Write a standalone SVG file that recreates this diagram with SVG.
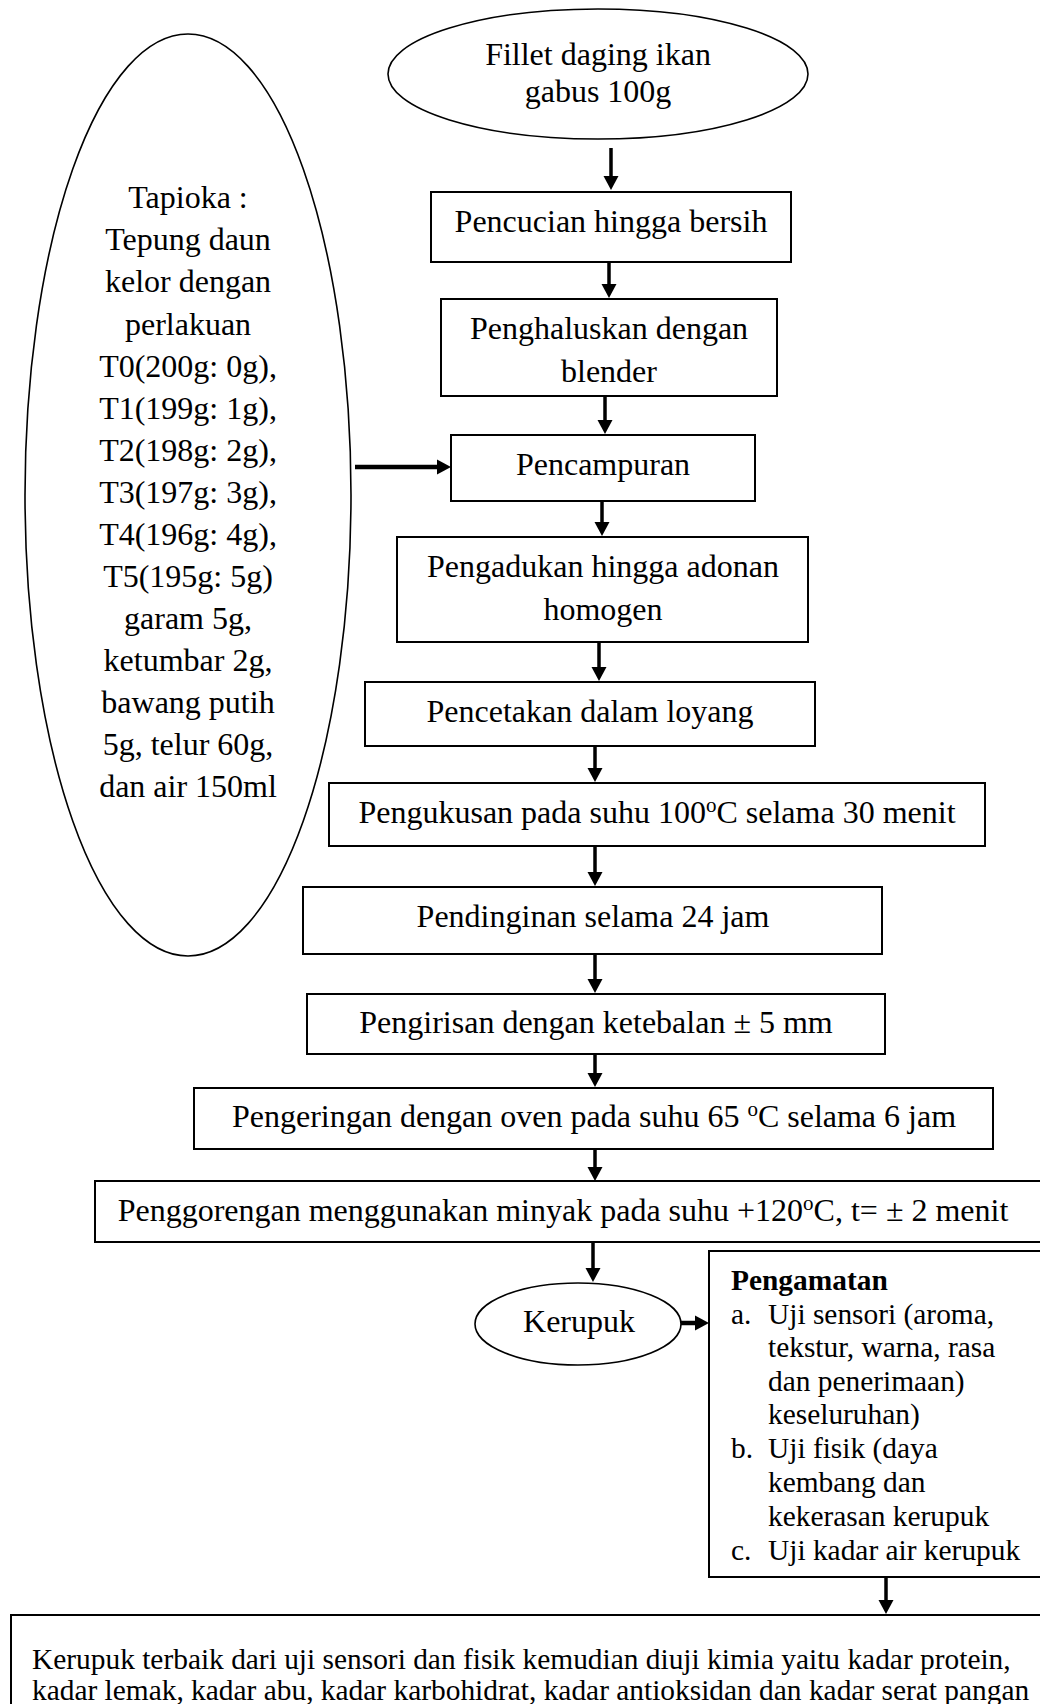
<svg xmlns="http://www.w3.org/2000/svg" width="1040" height="1704" viewBox="0 0 1040 1704">
<style>
text{font-family:"Liberation Serif","Times New Roman",serif;fill:#000}
.t{font-size:32px;text-anchor:middle}
.s{font-size:29.4px}
.b{font-weight:bold}
.box{fill:#fff;stroke:#000;stroke-width:2}
.ell{fill:#fff;stroke:#000;stroke-width:1.6}
.con{stroke:#000;stroke-width:3.5;fill:none}
.thick{stroke-width:4.5}
</style>
<defs>
<marker id="ah" markerUnits="userSpaceOnUse" markerWidth="16" markerHeight="18" refX="0" refY="7.5" orient="auto" viewBox="0 0 16 15" overflow="visible">
<path d="M0,0 L14,7.5 L0,15 z" fill="#000"/>
</marker>
</defs>
<rect width="1040" height="1704" fill="#fff"/>

<g id="bahan">
<ellipse class="ell" cx="188" cy="495" rx="163" ry="461"/>
<text class="t" x="188" y="208">Tapioka :</text>
<text class="t" x="188" y="250">Tepung daun</text>
<text class="t" x="188" y="292">kelor dengan</text>
<text class="t" x="188" y="335">perlakuan</text>
<text class="t" x="188" y="377">T0(200g: 0g),</text>
<text class="t" x="188" y="419">T1(199g: 1g),</text>
<text class="t" x="188" y="461">T2(198g: 2g),</text>
<text class="t" x="188" y="503">T3(197g: 3g),</text>
<text class="t" x="188" y="545">T4(196g: 4g),</text>
<text class="t" x="188" y="587">T5(195g: 5g)</text>
<text class="t" x="188" y="629">garam 5g,</text>
<text class="t" x="188" y="671">ketumbar 2g,</text>
<text class="t" x="188" y="713">bawang putih</text>
<text class="t" x="188" y="755">5g, telur 60g,</text>
<text class="t" x="188" y="797">dan air 150ml</text>
</g>

<g id="fillet">
<ellipse class="ell" cx="598" cy="74" rx="210" ry="65"/>
<text class="t" x="598" y="65">Fillet daging ikan</text>
<text class="t" x="598" y="102">gabus 100g</text>
</g>

<g id="pencucian">
<rect class="box" x="431" y="192" width="360" height="70"/>
<text class="t" x="611" y="232">Pencucian hingga bersih</text>
</g>

<g id="penghalusan">
<rect class="box" x="441" y="299" width="336" height="97"/>
<text class="t" x="609" y="339">Penghaluskan dengan</text>
<text class="t" x="609" y="382">blender</text>
</g>

<g id="pencampuran">
<rect class="box" x="451" y="435" width="304" height="66"/>
<text class="t" x="603" y="475">Pencampuran</text>
</g>

<g id="pengadukan">
<rect class="box" x="397" y="537" width="411" height="105"/>
<text class="t" x="603" y="577">Pengadukan hingga adonan</text>
<text class="t" x="603" y="620">homogen</text>
</g>

<g id="pencetakan">
<rect class="box" x="365" y="682" width="450" height="64"/>
<text class="t" x="590" y="722">Pencetakan dalam loyang</text>
</g>

<g id="pengukusan">
<rect class="box" x="329" y="783" width="656" height="63"/>
<text class="t" x="657" y="823">Pengukusan pada suhu 100<tspan font-size="21" dy="-11">o</tspan><tspan dy="11">C selama 30 menit</tspan></text>
</g>

<g id="pendinginan">
<rect class="box" x="303" y="887" width="579" height="67"/>
<text class="t" x="593" y="927">Pendinginan selama 24 jam</text>
</g>

<g id="pengirisan">
<rect class="box" x="307" y="994" width="578" height="60"/>
<text class="t" x="596" y="1033">Pengirisan dengan ketebalan ± 5 mm</text>
</g>

<g id="pengeringan">
<rect class="box" x="194" y="1088" width="799" height="61"/>
<text class="t" x="594" y="1127">Pengeringan dengan oven pada suhu 65 <tspan font-size="21" dy="-11">o</tspan><tspan dy="11">C selama 6 jam</tspan></text>
</g>

<g id="penggorengan">
<rect class="box" x="95" y="1181" width="960" height="61"/>
<text class="t" x="563" y="1221">Penggorengan menggunakan minyak pada suhu +120<tspan font-size="21" dy="-11">o</tspan><tspan dy="11">C, t= ± 2 menit</tspan></text>
</g>

<g id="kerupuk">
<ellipse class="ell" cx="578" cy="1324" rx="103" ry="41"/>
<text class="t" x="579" y="1332">Kerupuk</text>
</g>

<g id="pengamatan">
<rect class="box" x="709" y="1251" width="346" height="326"/>
<text class="s b" x="731" y="1290">Pengamatan</text>
<text class="s" x="731" y="1324">a.</text>
<text class="s" x="768" y="1324">Uji sensori (aroma,</text>
<text class="s" x="768" y="1357">tekstur, warna, rasa</text>
<text class="s" x="768" y="1391">dan penerimaan)</text>
<text class="s" x="768" y="1424">keseluruhan)</text>
<text class="s" x="731" y="1458">b.</text>
<text class="s" x="768" y="1458">Uji fisik (daya</text>
<text class="s" x="768" y="1492">kembang dan</text>
<text class="s" x="768" y="1526">kekerasan kerupuk</text>
<text class="s" x="731" y="1560">c.</text>
<text class="s" x="768" y="1560">Uji kadar air kerupuk</text>
</g>

<g id="kimia">
<rect class="box" x="11" y="1615" width="1044" height="110"/>
<text class="s" x="32" y="1669">Kerupuk terbaik dari uji sensori dan fisik kemudian diuji kimia yaitu kadar protein,</text>
<text class="s" x="32" y="1700">kadar lemak, kadar abu, kadar karbohidrat, kadar antioksidan dan kadar serat pangan</text>
</g>

<g id="connectors">
<line class="con" x1="611" y1="148" x2="611" y2="176" marker-end="url(#ah)"/>
<line class="con" x1="609" y1="262" x2="609" y2="284" marker-end="url(#ah)"/>
<line class="con" x1="605" y1="396" x2="605" y2="420" marker-end="url(#ah)"/>
<line class="con thick" x1="355" y1="467" x2="437" y2="467" marker-end="url(#ah)"/>
<line class="con" x1="602" y1="501" x2="602" y2="522" marker-end="url(#ah)"/>
<line class="con" x1="599" y1="642" x2="599" y2="667" marker-end="url(#ah)"/>
<line class="con" x1="595" y1="746" x2="595" y2="768" marker-end="url(#ah)"/>
<line class="con" x1="595" y1="846" x2="595" y2="872" marker-end="url(#ah)"/>
<line class="con" x1="595" y1="954" x2="595" y2="979" marker-end="url(#ah)"/>
<line class="con" x1="595" y1="1054" x2="595" y2="1073" marker-end="url(#ah)"/>
<line class="con" x1="595" y1="1149" x2="595" y2="1167" marker-end="url(#ah)"/>
<line class="con" x1="593" y1="1242" x2="593" y2="1268" marker-end="url(#ah)"/>
<line class="con thick" x1="681" y1="1323" x2="695" y2="1323" marker-end="url(#ah)"/>
<line class="con" x1="886" y1="1577" x2="886" y2="1600" marker-end="url(#ah)"/>
</g>
</svg>
